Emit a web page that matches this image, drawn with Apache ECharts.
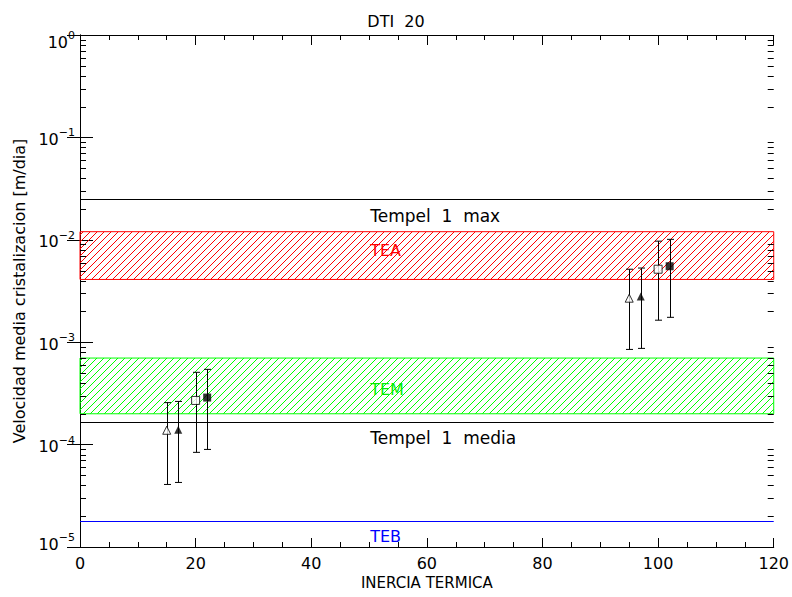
<!DOCTYPE html>
<html><head><meta charset="utf-8">
<script src="https://cdn.jsdelivr.net/npm/echarts@6/dist/echarts.min.js"></script>
<style>html,body{margin:0;padding:0;background:#fff}#c{width:792px;height:597px}</style>
</head><body><div id="c"></div>
<script>
// ---- data ----
const xTickStep = 20;
const xMin = 0, xMax = 120;
const yMin = 1e-5, yMax = 1;
const yDecades = [1e-5, 1e-4, 1e-3, 1e-2, 1e-1];
const yMinorMultipliers = [2, 3, 4, 5, 6, 7, 8, 9];

const openTriX  = [15, 95];
const openTriY  = [1.38e-4, 2.69e-3];
const openTriLo = [4.08e-5, 8.5e-4];
const openTriHi = [2.57e-4, 5.16e-3];

const fillTriX  = [17, 97];
const fillTriY  = [1.40e-4, 2.80e-3];
const fillTriLo = [4.27e-5, 8.7e-4];
const fillTriHi = [2.64e-4, 5.3e-3];

const openSqX  = [20, 100];
const openSqY  = [2.70e-4, 5.16e-3];
const openSqLo = [8.4e-5, 1.64e-3];
const openSqHi = [5.08e-4, 9.7e-3];

const fillSqX  = [22, 102];
const fillSqY  = [2.88e-4, 5.52e-3];
const fillSqLo = [8.97e-5, 1.75e-3];
const fillSqHi = [5.43e-4, 1.01e-2];

const teaBand = [4.1e-3, 1.2e-2];
const temBand = [2.0e-4, 7.0e-4];

const refLineValues = [0.025, 1.65e-4, 1.8e-5];
const refLineColors = ['#000000', '#000000', '#0000ff'];

const annoText  = ['Tempel  1  max', 'TEA', 'TEM', 'Tempel  1  media', 'TEB'];
const annoX     = [50.2, 50.2, 50.2, 50.2, 50.2];
const annoY     = [0.0171, 0.00795, 3.45e-4, 1.16e-4, 1.28e-5];
const annoColor = ['#000000', '#ff0000', '#00ee00', '#000000', '#0000ff'];
const annoSize  = [17, 16, 16, 17, 16];

// ---- helpers ----
const FONT = 'DejaVu Sans';
function hatch(color) {
  const c = document.createElement('canvas');
  c.width = 7; c.height = 7;
  const ctx = c.getContext('2d');
  ctx.fillStyle = color;
  for (let i = 0; i < 7; i++) ctx.fillRect(i, 6 - i, 1, 1);
  return c;
}
function zip(xs, ys) { return xs.map((x, i) => [x, ys[i]]); }
function errData(xs, lo, hi) { return xs.map((x, i) => [x, lo[i], hi[i]]); }

const minorData = [];
yDecades.forEach(d => yMinorMultipliers.forEach(m => minorData.push([0, d * m])));

const errAll = [].concat(
  errData(openTriX, openTriLo, openTriHi),
  errData(fillTriX, fillTriLo, fillTriHi),
  errData(openSqX, openSqLo, openSqHi),
  errData(fillSqX, fillSqLo, fillSqHi)
);

const refData = refLineValues.map((v, i) => [0, v, i]);
const annoData = annoText.map((t, i) => [annoX[i], annoY[i], i]);

const chart = echarts.init(document.getElementById('c'), null, {renderer: 'svg'});

const axisLineStyle = {color: '#000', width: 1};

const option = {
  animation: false,
  backgroundColor: '#fff',
  title: {
    text: 'DTI  20', left: 'center', top: 8,
    textStyle: {fontFamily: FONT, fontSize: 16, fontWeight: 'normal', color: '#000'}
  },
  grid: {left: 80, right: 17, top: 35, bottom: 50, show: false},
  xAxis: [{
    type: 'value', min: xMin, max: xMax, interval: xTickStep,
    name: 'INERCIA TERMICA', nameLocation: 'middle', nameGap: 27,
    nameTextStyle: {fontFamily: FONT, fontSize: 15, color: '#000'},
    axisLine: {show: true, lineStyle: axisLineStyle},
    axisTick: {show: true, inside: true, length: 9, lineStyle: axisLineStyle},
    minorTick: {show: true, splitNumber: 4, length: 5, lineStyle: axisLineStyle},
    axisLabel: {fontFamily: FONT, fontSize: 16, color: '#000', margin: 8},
    splitLine: {show: false}
  }, {
    type: 'value', min: xMin, max: xMax, interval: xTickStep, position: 'top',
    axisLine: {show: true, lineStyle: axisLineStyle},
    axisTick: {show: true, inside: true, length: 10, lineStyle: axisLineStyle},
    minorTick: {show: true, splitNumber: 4, length: 5, lineStyle: axisLineStyle},
    axisLabel: {show: false},
    splitLine: {show: false}
  }],
  yAxis: [{
    type: 'log', logBase: 10, min: yMin, max: yMax,
    name: 'Velocidad media cristalizacion [m/dia]', nameLocation: 'middle', nameGap: 50,
    nameTextStyle: {fontFamily: FONT, fontSize: 16, color: '#000'},
    axisLine: {show: true, lineStyle: axisLineStyle},
    axisTick: {show: true, inside: true, length: 13, lineStyle: axisLineStyle},
    axisLabel: {
      margin: 5, color: '#000', fontFamily: FONT, lineHeight: 12,
      formatter: function (v) {
        const e = Math.round(Math.log10(v));
        const s = '{b|10}{e|' + (e < 0 ? '\u2212' + (-e) : e) + '}';
        if (e === 0) return '{g| }\n' + s;
        if (e === -5) return s + '\n{g| }';
        return s;
      },
      rich: {
        b: {fontFamily: FONT, fontSize: 16, lineHeight: 20, verticalAlign: 'bottom', color: '#000'},
        e: {fontFamily: FONT, fontSize: 11, lineHeight: 12, verticalAlign: 'top', color: '#000'},
        g: {fontSize: 10, lineHeight: 10}
      }
    },
    splitLine: {show: false}
  }, {
    type: 'log', logBase: 10, min: yMin, max: yMax, position: 'right',
    axisLine: {show: true, lineStyle: axisLineStyle},
    axisTick: {show: true, inside: true, length: 13, lineStyle: axisLineStyle},
    axisLabel: {show: false},
    splitLine: {show: false}
  }],
  series: [
    {
      type: 'line', data: [], silent: true,
      markArea: {
        silent: true,
        data: [
          [{yAxis: teaBand[0], itemStyle: {color: {image: hatch('#ff0000'), repeat: 'repeat'}, borderColor: '#ff0000', borderWidth: 1}}, {yAxis: teaBand[1]}],
          [{yAxis: temBand[0], itemStyle: {color: {image: hatch('#00ff00'), repeat: 'repeat'}, borderColor: '#00ff00', borderWidth: 1}}, {yAxis: temBand[1]}]
        ]
      }
    },
    {
      type: 'custom', data: refData, silent: true,
      renderItem: function (params, api) {
        const v = api.value(1);
        const i = api.value(2);
        const pL = api.coord([xMin, v]);
        const pR = api.coord([xMax, v]);
        const y = Math.round(pL[1]) + 0.5;
        return {type: 'line', shape: {x1: pL[0], y1: y, x2: pR[0], y2: y},
                style: {stroke: refLineColors[i], lineWidth: 1}};
      }
    },
    {
      type: 'custom', data: minorData, silent: true, clip: false,
      renderItem: function (params, api) {
        const v = api.value(1);
        const pL = api.coord([xMin, v]);
        const pR = api.coord([xMax, v]);
        const y = Math.round(pL[1]) + 0.5;
        return {type: 'group', children: [
          {type: 'line', shape: {x1: pL[0], y1: y, x2: pL[0] + 6, y2: y}, style: {stroke: '#000', lineWidth: 1}},
          {type: 'line', shape: {x1: pR[0], y1: y, x2: pR[0] - 6, y2: y}, style: {stroke: '#000', lineWidth: 1}}
        ]};
      }
    },
    {
      type: 'custom', data: errAll, silent: true,
      renderItem: function (params, api) {
        const x = api.value(0);
        const lo = api.coord([x, api.value(1)]);
        const hi = api.coord([x, api.value(2)]);
        const px = Math.round(lo[0]) + 0.5;
        return {type: 'group', children: [
          {type: 'line', shape: {x1: px, y1: lo[1], x2: px, y2: hi[1]}, style: {stroke: '#000', lineWidth: 1}},
          {type: 'line', shape: {x1: px - 3.5, y1: lo[1], x2: px + 3.5, y2: lo[1]}, style: {stroke: '#000', lineWidth: 1}},
          {type: 'line', shape: {x1: px - 3.5, y1: hi[1], x2: px + 3.5, y2: hi[1]}, style: {stroke: '#000', lineWidth: 1}}
        ]};
      }
    },
    {type: 'scatter', data: zip(openTriX, openTriY), symbol: 'triangle', symbolSize: 8,
     itemStyle: {color: '#fff', borderColor: '#000', borderWidth: 1}},
    {type: 'scatter', data: zip(fillTriX, fillTriY), symbol: 'triangle', symbolSize: 8,
     itemStyle: {color: '#000'}},
    {type: 'scatter', data: zip(openSqX, openSqY), symbol: 'rect', symbolSize: 8,
     itemStyle: {color: '#fff', borderColor: '#000', borderWidth: 1}},
    {type: 'scatter', data: zip(fillSqX, fillSqY), symbol: 'rect', symbolSize: 8,
     itemStyle: {color: '#000'}},
    {
      type: 'custom', data: annoData, silent: true,
      renderItem: function (params, api) {
        const i = api.value(2);
        const p = api.coord([api.value(0), api.value(1)]);
        return {type: 'text', x: p[0], y: p[1], style: {
          text: annoText[i], fill: annoColor[i], font: annoSize[i] + 'px "' + FONT + '"',
          align: 'left', verticalAlign: 'middle'
        }};
      }
    }
  ]
};
chart.setOption(option);
</script>
</body></html>
